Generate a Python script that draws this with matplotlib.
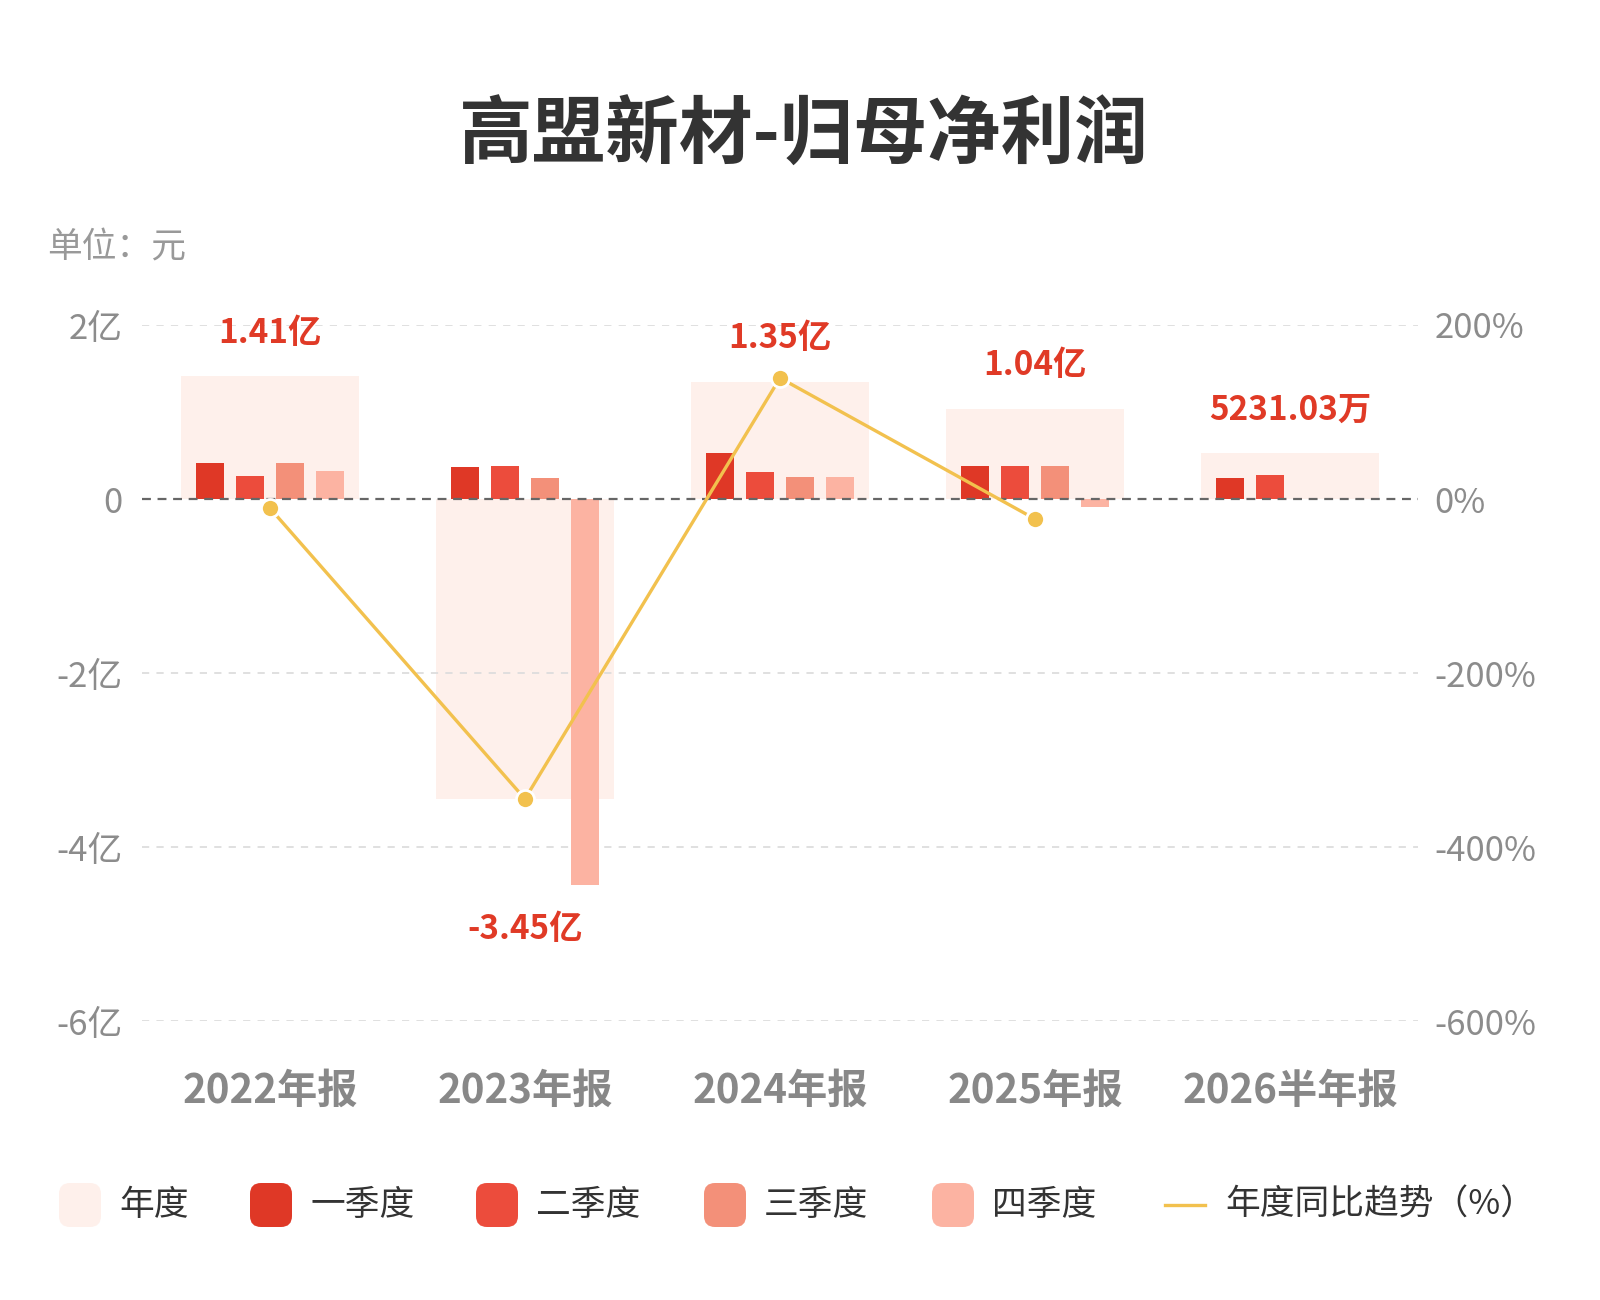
# 高盟新材 归母净利润 - annual vs quarterly, with yoy trend line
import numpy as np
import matplotlib.pyplot as plt
from matplotlib.patches import FancyBboxPatch

plt.rcParams['font.family'] = ['Noto Sans CJK SC', 'DejaVu Sans']

periods = ['2022年报', '2023年报', '2024年报', '2025年报', '2026半年报']
annual = [1.41, -3.45, 1.35, 1.04, 0.5231]          # 亿元
annual_text = ['1.41亿', '-3.45亿', '1.35亿', '1.04亿', '5231.03万']
q1 = [0.41, 0.37, 0.525, 0.38, 0.245]
q2 = [0.27, 0.38, 0.315, 0.38, 0.278]
q3 = [0.41, 0.24, 0.255, 0.375, None]
q4 = [0.32, -4.44, 0.255, -0.095, None]
yoy = [-10.5, -344.7, 139.1, -23.0]                  # %, none for the half year

left_ticks = [-6, -4, -2, 0, 2]
left_labels = ['-6亿', '-4亿', '-2亿', '0', '2亿']
right_ticks = [-600, -400, -200, 0, 200]
right_labels = ['-600%', '-400%', '-200%', '0%', '200%']

legend_names = ['年度', '一季度', '二季度', '三季度', '四季度']
line_name = '年度同比趋势（%）'

c_year = '#fef0eb'
c_q = ['#df3826', '#ec4c3c', '#f39079', '#fcb3a2']
c_line = '#f2c14e'
c_red = '#e03a26'
c_tick = '#8c8c8c'

fig = plt.figure(figsize=(16, 13), dpi=100)
ax = fig.add_axes([0.089, 0.2146, 0.797, 0.5354])
x = np.arange(len(periods))

ax.bar(x, annual, width=0.7, color=c_year, zorder=1)
offsets = [-0.235, -0.078, 0.078, 0.235]
for vals, off, col in zip([q1, q2, q3, q4], offsets, c_q):
    xs = [xi + off for xi, v in zip(x, vals) if v is not None]
    hs = [v for v in vals if v is not None]
    ax.bar(xs, hs, width=0.11, color=col, zorder=3)

for v in left_ticks:
    if v == 0:
        ax.axhline(v, color='#666666', lw=1.6, ls=(0, (4, 3)), zorder=4)
    else:
        ax.axhline(v, color='#dddddd', lw=1.3, ls=(0, (4, 4)), zorder=2)

# annual value labels above / below the extreme bar
for i, (v, t) in enumerate(zip(annual, annual_text)):
    qs = [q[i] for q in (q1, q2, q3, q4) if q[i] is not None] + [v]
    if v >= 0:
        ax.annotate(t, (i, max(qs)), xytext=(0, 31), textcoords='offset points',
                    ha='center', va='center', fontsize=24, fontweight='bold', color=c_red, zorder=6)
    else:
        ax.annotate(t, (i, min(qs)), xytext=(0, -32), textcoords='offset points',
                    ha='center', va='center', fontsize=24, fontweight='bold', color=c_red, zorder=6)

ax.set_xlim(-0.5, 4.5)
ax.set_ylim(-6, 2)
ax.set_yticks(left_ticks)
ax.set_yticklabels(left_labels)
ax.set_xticks(x)
ax.set_xticklabels(periods, fontsize=29, fontweight='bold', color='#888888')
ax.tick_params(axis='y', length=0, pad=14, labelsize=25, labelcolor=c_tick)
ax.tick_params(axis='x', length=0, pad=36)
for s in ax.spines.values():
    s.set_visible(False)

ax2 = ax.twinx()
ax2.plot(x[:len(yoy)], yoy, color=c_line, lw=2.4, marker='o', ms=13,
         mfc=c_line, mec='white', mew=2, zorder=5)
ax2.set_ylim(-600, 200)
ax2.set_yticks(right_ticks)
ax2.set_yticklabels(right_labels)
ax2.tick_params(axis='y', length=0, pad=12, labelsize=25, labelcolor=c_tick)
for s in ax2.spines.values():
    s.set_visible(False)

fig.text(0.5025, 0.895, '高盟新材-归母净利润', ha='center', va='center',
         fontsize=53, fontweight='bold', color='#333333')
fig.text(47 / 1600, 0.809, '单位：元', ha='left', va='center', fontsize=25, color='#999999')

# legend, laid out in pixel coordinates
lg = fig.add_axes([0, 0, 1, 1])
lg.set_xlim(0, 1600)
lg.set_ylim(1300, 0)
lg.set_axis_off()
ly = 1205
legend_x = [59, 250, 476, 704, 932]
for lx, name, col in zip(legend_x, legend_names, [c_year] + c_q):
    lg.add_patch(FancyBboxPatch((lx, ly - 22), 42, 44, boxstyle='round,pad=0,rounding_size=11',
                                facecolor=col, edgecolor='none'))
    lg.text(lx + 60, ly, name, ha='left', va='center', fontsize=25, color='#333333')
lg.plot([1165, 1205], [ly, ly], color=c_line, lw=2.4)
lg.text(1225, ly, line_name, ha='left', va='center', fontsize=25, color='#333333')

fig.savefig('out.png', dpi=100, facecolor='white')
